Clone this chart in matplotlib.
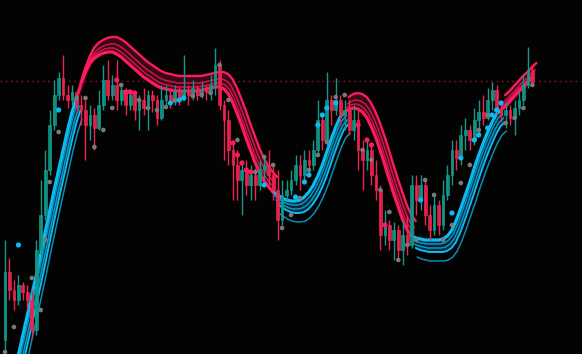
import matplotlib
matplotlib.use("Agg")
import matplotlib.pyplot as plt
import numpy as np

# screen-level readings (y grows downwards, axis is inverted below)
open0 = 340
close = [272, 290, 300, 285, 292, 300, 330, 250, 215, 170, 125, 95, 78, 95, 100, 92, 105, 110, 125, 115,
         128, 105, 80, 95, 85, 100, 90, 105, 95, 110, 100, 108, 95, 100, 118, 100, 95, 102, 92, 98,
         90, 95, 88, 95, 90, 92, 85, 65, 105, 120, 150, 165, 180, 170, 185, 175, 185, 170, 165, 175,
         190, 220, 195, 190, 180, 165, 175, 160, 165, 150, 120, 140, 100, 110, 100, 115, 110, 130, 120, 150,
         160, 150, 175, 190, 235, 225, 240, 230, 250, 235, 245, 185, 200, 185, 215, 230, 205, 225, 195, 175,
         150, 158, 135, 130, 140, 120, 112, 118, 100, 90, 108, 115, 110, 118, 108, 100, 85, 70, 82]
high = [240, 258, 280, 275, 282, 285, 290, 240, 180, 150, 110, 80, 72, 55, 85, 85, 90, 95, 100, 105,
        108, 90, 65, 60, 75, 60, 85, 88, 90, 92, 95, 88, 90, 90, 95, 85, 85, 90, 85, 87,
        55, 85, 80, 85, 82, 85, 75, 48, 60, 100, 110, 140, 150, 160, 160, 165, 168, 160, 155, 150,
        165, 170, 180, 180, 170, 155, 155, 150, 150, 140, 100, 115, 72, 95, 78, 95, 100, 100, 105, 110,
        140, 140, 145, 160, 185, 210, 220, 222, 225, 220, 215, 175, 175, 175, 180, 205, 195, 200, 180, 165,
        140, 140, 125, 118, 125, 108, 100, 95, 88, 82, 85, 100, 102, 105, 100, 92, 75, 47, 65]
low = [354, 300, 310, 305, 300, 310, 338, 335, 255, 220, 175, 130, 100, 100, 108, 105, 112, 125, 160, 140,
       150, 130, 110, 100, 100, 110, 105, 115, 110, 120, 130, 115, 130, 112, 125, 120, 105, 108, 105, 105,
       100, 105, 100, 100, 98, 100, 100, 95, 110, 160, 165, 200, 200, 215, 195, 200, 200, 190, 180, 185,
       200, 240, 225, 200, 195, 185, 190, 180, 175, 170, 155, 150, 145, 125, 115, 125, 130, 135, 140, 170,
       190, 170, 185, 200, 250, 245, 250, 260, 258, 265, 255, 248, 215, 210, 225, 240, 235, 235, 230, 200,
       185, 170, 165, 150, 150, 145, 135, 125, 120, 110, 115, 122, 128, 125, 135, 115, 105, 88, 85]

# smoothed trend band (inner line) and its direction switches
band = [420, 398, 376, 355, 335, 315, 295, 275, 254, 232, 211, 190, 170, 150, 130, 112, 98, 84, 72, 63,
        58, 55, 53, 52, 52, 54, 57, 61, 65, 69, 73, 77, 80, 83, 86, 88, 89, 90, 91, 91,
        91, 91, 91, 91, 90, 89, 88, 87, 87, 89, 94, 103, 114, 126, 139, 151, 163, 173, 181, 187,
        192, 195, 198, 200, 201, 201, 200, 197, 192, 185, 176, 165, 152, 139, 127, 117, 112, 109, 108, 109,
        112, 118, 127, 138, 151, 165, 180, 194, 207, 220, 230, 236, 238, 239, 240, 240, 240, 240, 239, 236,
        230, 220, 208, 195, 182, 168, 155, 143, 132, 122, 114, 110, 106, 101, 96, 91, 87, 82, 78]
switch_at = [0, 16, 60, 76, 91, 111]
switch_dir = [-1, 1, -1, 1, -1, 1]

# stop-and-reverse dots
sar_idx = [0, 2, 6, 8, 9, 10, 12, 16, 18, 20, 22, 24, 26, 28, 30, 32, 34, 36, 38, 40, 42, 44, 46,
           48, 50, 52, 56, 58, 60, 62, 64, 66, 68, 70, 72, 74, 76, 80, 82, 84, 86, 88, 90, 92, 94,
           96, 98, 100, 102, 104, 106, 108, 112, 114, 116, 118]
sar_val = [352, 327, 278, 310, 240, 182, 132, 98, 98, 147, 130, 108, 85, 92, 100, 108, 110, 107, 100,
           98, 96, 95, 93, 65, 100, 140, 172, 157, 165, 228, 215, 198, 170, 155, 142, 97, 95, 150, 160,
           190, 212, 260, 245, 240, 180, 195, 240, 225, 183, 165, 130, 115, 123, 118, 108, 85]

sig_idx = [3, 12, 25, 27, 28, 29, 37, 39, 40, 51, 52, 53, 54, 55, 58, 65, 67, 68, 70, 71, 72, 74,
           79, 81, 82, 85, 93, 100, 102, 105, 106, 108, 109, 110, 111]
sig_val = [245, 110, 80, 92, 92, 93, 103, 100, 98, 143, 155, 163, 170, 172, 185, 197, 182, 175, 125,
           115, 108, 103, 125, 140, 145, 225, 200, 213, 158, 140, 135, 128, 115, 110, 103]
sig_dir = [-1, -1, 1, 1, 1, 1, -1, -1, -1, 1, 1, 1, 1, 1, -1, -1, -1, -1, -1, -1, -1, -1,
           1, 1, 1, 1, -1, -1, -1, -1, -1, -1, -1, -1, -1]

ref_level = 81

BG = "#030303"
UP = "#12988a"
DN = "#ee2350"
RED = "#ff1a5e"
BLUE = "#0bbcf2"
RED_DARK = "#3e0819"
BLUE_DARK = "#052c40"

fig = plt.figure(figsize=(5.82, 3.54), dpi=100, facecolor=BG)
ax = fig.add_axes([0, 0, 1, 1], facecolor=BG)

n = len(close)
x = np.arange(n)
opens = np.array([open0] + close[:-1])
closes = np.array(close)

# horizontal reference line
ax.axhline(ref_level, color="#8c1426", lw=1.0, ls=(0, (1.2, 2.6)), zorder=1)

# band: red fans upwards, blue fans downwards with a thin outer line
band = np.array(band, dtype=float)
offsets = {1: [0, 4, 8, 15], -1: [0, 4, 8, 12, 21]}
widths = {1: [2.3, 1.1, 1.1, 1.7], -1: [2.3, 1.1, 1.1, 1.4, 1.1]}
bounds = switch_at + [n - 1]
for k, d in enumerate(switch_dir):
    s, e = bounds[k], bounds[k + 1]
    xs = x[s:e + 1]
    core = band[s:e + 1]
    col = RED if d > 0 else BLUE
    dark = RED_DARK if d > 0 else BLUE_DARK
    offs = offsets[d]
    fill_to = offs[3]
    ax.fill_between(xs + 0.6, core, core - d * fill_to, color=dark, alpha=0.9, lw=0, zorder=2)
    for j, off in enumerate(offs):
        a = 1.0 if j in (0, 3) else 0.75
        ax.plot(xs + 0.3 * j, core - d * off, color=col, lw=widths[d][j], alpha=a,
                solid_capstyle="round", zorder=3)

# candles
up = closes <= opens
colors = np.where(up, UP, DN)
ax.vlines(x, high, low, colors=colors, lw=1.0, zorder=4)
ax.bar(x, np.abs(opens - closes), bottom=np.minimum(opens, closes), width=0.62,
       color=colors, edgecolor=colors, lw=0.6, alpha=0.85, zorder=5)

# dots
ax.scatter(sar_idx, sar_val, s=11, color="#7a7a7a", edgecolors="none", zorder=6)
sig_cols = [RED if d > 0 else BLUE for d in sig_dir]
ax.scatter(sig_idx, sig_val, s=14, color=sig_cols, edgecolors="none", zorder=6)

ax.set_xlim(-1.12, 129.1)
ax.set_ylim(354, 0)
ax.axis("off")

fig.savefig("out.png", dpi=100, facecolor=BG)
